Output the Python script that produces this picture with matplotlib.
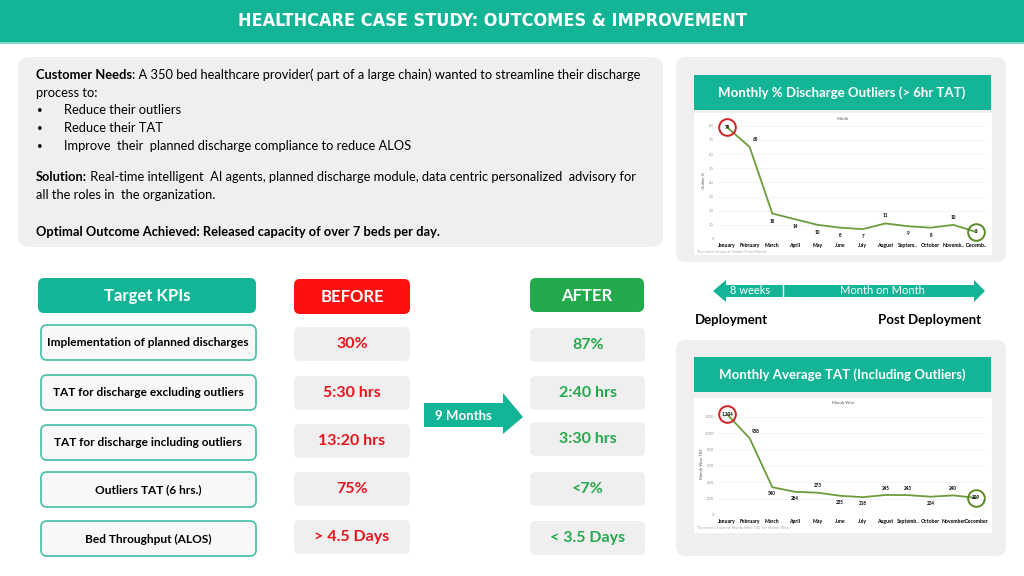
import matplotlib
matplotlib.use("Agg")
import matplotlib.pyplot as plt
from matplotlib import font_manager as fm
from matplotlib.patches import FancyBboxPatch, Polygon, Rectangle

plt.rcParams.update({"font.family": ["Lato", "DejaVu Sans"], "font.size": 9})

TEAL = "#14b596"
RED = "#ff1010"
GREEN = "#22aa4c"
GREY = "#efefef"
LINE = "#6c9c3c"

# ---- data ----
months1 = ["January", "February", "March", "April", "May", "June", "July",
           "August", "Septem..", "October", "Novemb..", "Decemb.."]
outlier_pct = [79, 65, 18, 14, 10, 8, 7, 11, 9, 8, 10, 5]
months2 = ["January", "February", "March", "April", "May", "June", "July",
           "August", "Septemb..", "October", "November", "December"]
avg_tat = [1234, 938, 340, 284, 273, 235, 218, 245, 243, 224, 240, 209]
avg_tat_labels = ["1,234", "938", "340", "284", "273", "235", "218", "245",
                  "243", "224", "240", "209"]

kpis = ["Implementation of planned discharges", "TAT for discharge excluding outliers",
        "TAT for discharge including outliers", "Outliers TAT (6 hrs.)",
        "Bed Throughput (ALOS)"]
before = ["30%", "5:30 hrs", "13:20 hrs", "75%", "> 4.5 Days"]
after = ["87%", "2:40 hrs", "3:30 hrs", "<7%", "< 3.5 Days"]

# pick a narrow face for the banner if one is installed
fl = fm.fontManager.ttflist
names = {f.name for f in fl}
title_kw = dict(family=["Roboto", "DejaVu Sans"], size=10.5)
if "Liberation Sans Narrow" in names:
    title_kw = dict(family=["Liberation Sans Narrow"], size=15)
elif any(f.name == "DejaVu Sans" and f.stretch == "condensed" for f in fl):
    title_kw = dict(family=["DejaVu Sans"], size=13, fontstretch="condensed")

W, H = 1024, 576
fig = plt.figure(figsize=(W / 100, H / 100), dpi=100)
bg = fig.add_axes([0, 0, 1, 1])
bg.set_xlim(0, W); bg.set_ylim(H, 0); bg.axis("off")


def rbox(x, y, w, h, fc, ec="none", lw=0, r=8, z=1):
    bg.add_patch(FancyBboxPatch((x, y), w, h, boxstyle=f"round,pad=0,rounding_size={r}",
                                fc=fc, ec=ec, lw=lw, zorder=z))


def txt(x, y, s, size=9, color="black", weight="normal", ha="center", **kw):
    return bg.text(x, y, s, fontsize=size, color=color, fontweight=weight, ha=ha,
                   va="center", zorder=5, **kw)


def bold_lead(x, y, lead, rest, fs):
    t = bg.text(x, y, lead, fontsize=fs, fontweight="bold", va="center", zorder=5)
    bg.annotate(rest, xy=(1, 0.5), xycoords=t, fontsize=fs, va="center", zorder=5)


# title bar
bg.add_patch(Rectangle((0, 0), W, 42, fc=TEAL, ec="none"))
bg.add_patch(Rectangle((0, 42), W, 2, fc="#7fd8c6", ec="none"))
tsize = title_kw.pop("size")
txt(492, 21, "HEALTHCARE CASE STUDY: OUTCOMES & IMPROVEMENT", size=tsize, color="white",
    weight="bold", **title_kw)

# customer needs box
rbox(18, 57, 645, 190, GREY, r=12)
tx, fs = 36, 9.25
bold_lead(tx, 75, "Customer Needs",
          ": A 350 bed healthcare provider( part of a large chain) wanted to streamline their discharge", fs)
bg.text(tx, 93, "process to:", fontsize=fs, va="center", zorder=5)
for yy, s in zip([110, 128, 146], ["Reduce their outliers", "Reduce their TAT",
                                   "Improve  their  planned discharge compliance to reduce ALOS"]):
    bg.text(37, yy, "\u2022", fontsize=7, va="center", zorder=5)
    bg.text(64, yy, s, fontsize=fs, va="center", zorder=5)
bold_lead(tx, 177, "Solution:",
          " Real-time intelligent  AI agents, planned discharge module, data centric personalized  advisory for", fs)
bg.text(tx, 195, "all the roles in  the organization.", fontsize=fs, va="center", zorder=5)
bg.text(tx, 232, "Optimal Outcome Achieved: Released capacity of over 7 beds per day.",
        fontsize=fs, fontweight="bold", va="center", zorder=5)

# KPI headers
rbox(38, 278, 218, 35, TEAL, r=6)
txt(147, 296, "Target KPIs", size=12, color="white", weight="bold")
rbox(294, 279, 116, 35, RED, r=6)
txt(352, 297, "BEFORE", size=12, color="white", weight="bold")
rbox(530, 278, 114, 34, GREEN, r=6)
txt(587, 296, "AFTER", size=12, color="white", weight="bold")

kpi_y = [325, 375, 425, 472, 521]
before_y = [327, 376, 424, 472, 520]
after_y = [328, 376, 422, 472, 521]
for i, k in enumerate(kpis):
    rbox(41, kpi_y[i], 215, 35, "#f8f8f8", ec="#52c2aa", lw=1.3, r=6)
    txt(148, kpi_y[i] + 18, k, size=8.6, weight="bold")
    rbox(294, before_y[i], 116, 34, GREY, r=6)
    txt(352, before_y[i] + 17, before[i], size=11.5, color="#e8141c", weight="bold")
    rbox(530, after_y[i], 115, 34, GREY, r=6)
    txt(588, after_y[i] + 17, after[i], size=11.5, color=GREEN, weight="bold")

# 9 months arrow
bg.add_patch(Polygon([(424, 403), (503, 403), (503, 393), (523, 417), (503, 434),
                      (503, 427), (424, 427)], closed=True, fc=TEAL, ec="none", zorder=3))
txt(463, 416, "9 Months", size=9.5, color="white", weight="bold")

# right panels
for (y0, y1, hy, title) in [(57, 262, 75, "Monthly % Discharge Outliers (> 6hr TAT)"),
                            (340, 556, 357, "Monthly Average TAT (Including Outliers)")]:
    rbox(676, y0, 330, y1 - y0, GREY, r=10)
    bg.add_patch(Rectangle((694, hy), 297, 35, fc=TEAL, ec="none", zorder=2))
    txt(842, hy + 18, title, size=9.5, color="white", weight="bold")
bg.add_patch(Rectangle((694, 113), 298, 142, fc="white", ec="none", zorder=2))
bg.add_patch(Rectangle((694, 398), 298, 135, fc="white", ec="none", zorder=2))

# double arrow
bg.add_patch(Polygon([(713, 291), (726, 280), (726, 285), (974, 285), (974, 280),
                      (985, 291), (974, 302), (974, 297), (726, 297), (726, 302)],
                     closed=True, fc=TEAL, ec="none", zorder=3))
bg.plot([783, 783], [285, 297], color="white", lw=1, zorder=4)
txt(750, 291, "8 weeks", size=8, color="white")
txt(882, 291, "Month on Month", size=8, color="white")
txt(695, 320, "Deployment", size=9.5, weight="bold", ha="left")
txt(981, 320, "Post Deployment", size=9.5, weight="bold", ha="right")


def chart(px0, px1, py_top, py_bot, months, vals, labels, yticks, ylim, ylabel, top, foot,
          box_y, foot_y, ylab_x, above):
    ax = fig.add_axes([px0 / W, 1 - py_bot / H, (px1 - px0) / W, (py_bot - py_top) / H])
    x = list(range(len(vals)))
    ax.plot(x, vals, color=LINE, lw=1.3, zorder=3)
    ax.set_ylim(*ylim)
    ax.set_xlim(-0.4, len(vals) - 0.6)
    ax.set_yticks(yticks)
    ax.set_yticklabels([str(t) for t in yticks], fontsize=3, color="#999999")
    ax.set_xticks(x)
    ax.set_xticklabels(months, fontsize=3.7, fontweight="bold")
    ax.tick_params(length=0, pad=3)
    ax.grid(axis="y", color="#f0f0f0", lw=0.5)
    for s in ax.spines.values():
        s.set_visible(False)
    ax.patch.set_alpha(0)
    off = (ylim[1] - ylim[0]) * 0.065
    for i, (v, lab) in enumerate(zip(vals, labels)):
        dy = off if i in above else -off
        dx = 0.25 if i == 1 else 0
        if i in (0, len(vals) - 1):
            dy = 0
        ax.text(i + dx, v + dy, lab, fontsize=3.3, fontweight="bold", ha="center",
                va="center", zorder=4, clip_on=False)
    # highlight rings
    ax.plot([0], [vals[0]], "o", ms=12, mfc="none", mec="#d42020", mew=1.4, zorder=5, clip_on=False)
    ax.plot([len(vals) - 1], [vals[-1]], "o", ms=12, mfc="none", mec="#5c8a2a", mew=1.4,
            zorder=5, clip_on=False)
    txt(843, box_y, top, size=3, color="#555555")
    bg.text(ylab_x, (py_top + py_bot) / 2, ylabel, fontsize=3, color="#555555", rotation=90,
            ha="center", va="center", zorder=5)
    bg.text(697, foot_y, foot, fontsize=2.8, color="#aaaaaa", va="center", zorder=5)
    return ax


chart(718, 985, 123, 239, months1, outlier_pct, [str(v) for v in outlier_pct],
      list(range(0, 81, 10)), (0, 82), "Outlier %", "Month",
      "The trend of sum of Outlier % for Month.", 119, 252, 704, {1, 7, 10})
chart(718, 985, 412, 515, months2, avg_tat, avg_tat_labels,
      list(range(0, 1201, 200)), (0, 1260), "Month Wise TAT", "Month Wise",
      "The trend of sum of Month Wise TAT for Month Wise.", 403, 528, 702, {1, 4, 7, 8, 10})

fig.savefig("out.png", dpi=100)
